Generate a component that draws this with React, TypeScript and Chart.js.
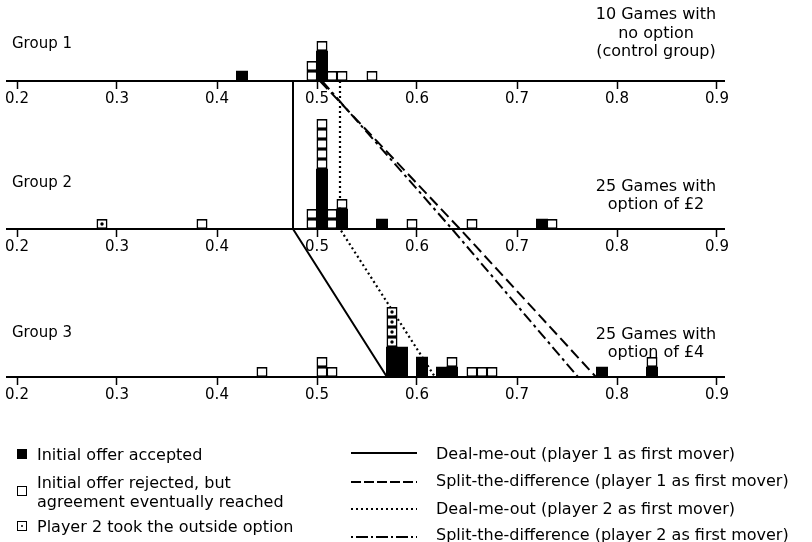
import React, { useEffect, useRef } from 'react';
import { Chart, registerables } from 'chart.js';

Chart.register(...registerables);

const FONT = '"DejaVu Sans", "Liberation Sans", sans-serif';

// Horizontal axis: share of the pie (identical scale on all three group axes)
const AXIS_TICKS = [0.2, 0.3, 0.4, 0.5, 0.6, 0.7, 0.8, 0.9];
const AXIS_MIN = 0.19;
const AXIS_MAX = 0.907;

// Baseline of each group's axis, in box units (one box = one game)
const GROUP_BASELINES = [29.6, 14.8, 0];
const GROUP_LABELS = ['Group 1', 'Group 2', 'Group 3'];
const GROUP_NOTES = [
  ['10 Games with', 'no option', '(control group)'],
  ['25 Games with', 'option of £2'],
  ['25 Games with', 'option of £4'],
];

// Offers binned to 0.01 (bin centres) and number of games per outcome
const G1_BINS = [0.425, 0.495, 0.505, 0.515, 0.525, 0.555];
const G1_ACCEPTED = [1, 0, 3, 0, 0, 0];
const G1_OPTION = [0, 0, 0, 0, 0, 0];
const G1_REJECTED = [0, 2, 1, 1, 1, 1];

const G2_BINS = [0.285, 0.385, 0.495, 0.505, 0.515, 0.525, 0.565, 0.595, 0.655, 0.725, 0.735];
const G2_ACCEPTED = [0, 0, 0, 6, 0, 2, 1, 0, 0, 1, 0];
const G2_OPTION = [1, 0, 0, 0, 0, 0, 0, 0, 0, 0, 0];
const G2_REJECTED = [0, 1, 2, 5, 2, 1, 0, 1, 1, 0, 1];

const G3_BINS = [0.445, 0.505, 0.515, 0.575, 0.585, 0.605, 0.625, 0.635, 0.655, 0.665, 0.675, 0.785, 0.835];
const G3_ACCEPTED = [0, 0, 0, 3, 3, 2, 1, 1, 0, 0, 0, 1, 1];
const G3_OPTION = [0, 0, 0, 4, 0, 0, 0, 0, 0, 0, 0, 0, 0];
const G3_REJECTED = [1, 2, 1, 0, 0, 0, 0, 1, 1, 1, 1, 0, 1];

// Theoretical predictions where they meet the Group 1, 2 and 3 axes
const DEAL_ME_OUT_P1 = [0.476, 0.476, 0.57];
const SPLIT_DIFF_P1 = [0.503, 0.643, 0.779];
const DEAL_ME_OUT_P2 = [0.523, 0.523, 0.618];
const SPLIT_DIFF_P2 = [0.505, 0.635, 0.761];

const OUTCOME_LEGEND = [
  'Initial offer accepted',
  'Initial offer rejected, but\nagreement eventually reached',
  'Player 2 took the outside option',
];
const STRATEGY_LEGEND = [
  'Deal-me-out (player 1 as first mover)',
  'Split-the-difference (player 1 as first mover)',
  'Deal-me-out (player 2 as first mover)',
  'Split-the-difference (player 2 as first mover)',
];

type Box = { x: number; y: [number, number] };
type Pt = { x: number; y: number };

const GROUPS = [
  { bins: G1_BINS, accepted: G1_ACCEPTED, option: G1_OPTION, rejected: G1_REJECTED },
  { bins: G2_BINS, accepted: G2_ACCEPTED, option: G2_OPTION, rejected: G2_REJECTED },
  { bins: G3_BINS, accepted: G3_ACCEPTED, option: G3_OPTION, rejected: G3_REJECTED },
];

// Stack one box per game: accepted at the bottom, then outside option, then rejected
function buildBoxes() {
  const accepted: Box[] = [];
  const option: Box[] = [];
  const rejected: Box[] = [];
  const dots: Pt[] = [];
  GROUPS.forEach((g, gi) => {
    const base = GROUP_BASELINES[gi];
    g.bins.forEach((x, i) => {
      let level = 0;
      for (let k = 0; k < g.accepted[i]; k++, level++) accepted.push({ x, y: [base + level, base + level + 1] });
      for (let k = 0; k < g.option[i]; k++, level++) {
        option.push({ x, y: [base + level, base + level + 1] });
        dots.push({ x, y: base + level + 0.5 });
      }
      for (let k = 0; k < g.rejected[i]; k++, level++) rejected.push({ x, y: [base + level, base + level + 1] });
    });
  });
  return { accepted, option, rejected, dots };
}

const toLine = (shares: number[]): Pt[] => shares.map((x, i) => ({ x, y: GROUP_BASELINES[i] }));

const makeAxis = (baseline: number) => ({
  type: 'linear',
  axis: 'x',
  position: { y: baseline },
  min: AXIS_MIN,
  max: AXIS_MAX,
  offset: false,
  afterBuildTicks: (scale: any) => {
    scale.ticks = AXIS_TICKS.map((v) => ({ value: v }));
  },
  ticks: {
    callback: (v: any) => Number(v).toFixed(1),
    color: '#000',
    font: { family: FONT, size: 15 },
    padding: 2,
    autoSkip: false,
    maxRotation: 0,
  },
  grid: { drawOnChartArea: false, drawTicks: true, tickLength: 7, tickWidth: 1.5, tickColor: '#000', offset: false },
  border: { display: true, color: '#000', width: 2 },
});

// Group names on the left and game counts on the right of each axis
const LABEL_OFFSETS = [-37, -46, -44];
const NOTE_BOTTOM_OFFSETS = [-29, -24, -24];
const groupTextPlugin = {
  id: 'groupText',
  afterDraw(chart: any) {
    const { ctx } = chart;
    const yScale = chart.scales.y;
    ctx.save();
    ctx.fillStyle = '#000';
    ctx.textBaseline = 'middle';
    GROUP_BASELINES.forEach((b, gi) => {
      const py = yScale.getPixelForValue(b);
      ctx.font = `15px ${FONT}`;
      ctx.textAlign = 'left';
      ctx.fillText(GROUP_LABELS[gi], 12, py + LABEL_OFFSETS[gi]);
      ctx.font = `16px ${FONT}`;
      ctx.textAlign = 'center';
      const lines = GROUP_NOTES[gi];
      lines.forEach((t, i) => {
        ctx.fillText(t, 656, py + NOTE_BOTTOM_OFFSETS[gi] - (lines.length - 1 - i) * 18.5);
      });
    });
    ctx.restore();
  },
};

const boxStyle = (fill: string, inflate: number) => ({
  type: 'bar' as const,
  backgroundColor: fill,
  borderColor: '#000',
  borderWidth: 1.7,
  borderSkipped: false,
  barThickness: 11,
  grouped: false,
  inflateAmount: inflate,
  order: 1,
});

const lineStyle = (dash: number[], width = 2) => ({
  type: 'line' as const,
  borderColor: '#000',
  borderWidth: width,
  borderDash: dash,
  pointRadius: 0,
  fill: false,
  tension: 0,
  order: 2,
});

function StrategyChart() {
  const ref = useRef<HTMLCanvasElement | null>(null);
  useEffect(() => {
    if (!ref.current) return;
    const boxes = buildBoxes();
    const chart = new Chart(ref.current, {
      type: 'bar',
      data: {
        datasets: [
          { label: 'accepted', data: boxes.accepted, ...boxStyle('#000', 0.5) } as any,
          { label: 'option', data: boxes.option, ...boxStyle('#fff', 0) } as any,
          { label: 'rejected', data: boxes.rejected, ...boxStyle('#fff', 0) } as any,
          {
            type: 'scatter',
            label: 'option-dot',
            data: boxes.dots,
            pointRadius: 1.7,
            pointBackgroundColor: '#000',
            pointBorderWidth: 0,
            order: 0,
          } as any,
          { label: 'dmo1', data: toLine(DEAL_ME_OUT_P1), ...lineStyle([]) } as any,
          { label: 'std1', data: toLine(SPLIT_DIFF_P1), ...lineStyle([11, 5]) } as any,
          { label: 'dmo2', data: toLine(DEAL_ME_OUT_P2), ...lineStyle([2, 3], 2.2) } as any,
          { label: 'std2', data: toLine(SPLIT_DIFF_P2), ...lineStyle([11, 4, 3, 4]) } as any,
        ],
      },
      options: {
        responsive: false,
        animation: false,
        events: [],
        layout: { padding: { left: 7, right: 88, top: 6, bottom: 6 } },
        plugins: { legend: { display: false }, tooltip: { enabled: false } },
        scales: {
          x: makeAxis(GROUP_BASELINES[0]),
          x2: makeAxis(GROUP_BASELINES[1]),
          x3: makeAxis(GROUP_BASELINES[2]),
          y: { type: 'linear', min: -15.9, max: 37.1, display: false },
        } as any,
      },
      plugins: [groupTextPlugin],
    });
    return () => chart.destroy();
  }, []);
  return <canvas ref={ref} width={812} height={542} style={{ display: 'block' }} />;
}

function Square({ kind }: { kind: number }) {
  return (
    <div
      style={{
        position: 'relative',
        width: 10,
        height: 10,
        boxSizing: 'border-box',
        border: '1.5px solid #000',
        background: kind === 0 ? '#000' : '#fff',
      }}
    >
      {kind === 2 && (
        <div
          style={{
            position: 'absolute',
            left: 2.5,
            top: 2.5,
            width: 2.4,
            height: 2.4,
            borderRadius: '50%',
            background: '#000',
          }}
        />
      )}
    </div>
  );
}

const OUTCOME_POS = [
  { iconTop: 449, textTop: 445 },
  { iconTop: 486, textTop: 473 },
  { iconTop: 521, textTop: 517 },
];
const STRATEGY_POS = [
  { lineY: 453, textTop: 444, dash: '' },
  { lineY: 482, textTop: 471, dash: '10 3' },
  { lineY: 509, textTop: 499, dash: '2 3' },
  { lineY: 537, textTop: 525, dash: '2 3 12 3' },
];

function Legend() {
  const text: React.CSSProperties = {
    position: 'absolute',
    font: `16px ${FONT}`,
    lineHeight: '19px',
    color: '#000',
    whiteSpace: 'pre',
  };
  return (
    <>
      {OUTCOME_LEGEND.map((t, i) => (
        <React.Fragment key={t}>
          <div style={{ position: 'absolute', left: 17, top: OUTCOME_POS[i].iconTop }}>
            <Square kind={i} />
          </div>
          <div style={{ ...text, left: 37, top: OUTCOME_POS[i].textTop }}>{t}</div>
        </React.Fragment>
      ))}
      <svg style={{ position: 'absolute', left: 0, top: 0 }} width={812} height={542}>
        {STRATEGY_POS.map((p, i) => (
          <line
            key={i}
            x1={351}
            x2={417}
            y1={p.lineY}
            y2={p.lineY}
            stroke="#000"
            strokeWidth={i === 2 ? 2.2 : 2}
            strokeDasharray={p.dash || undefined}
          />
        ))}
      </svg>
      {STRATEGY_LEGEND.map((t, i) => (
        <div key={t} style={{ ...text, left: 436, top: STRATEGY_POS[i].textTop }}>
          {t}
        </div>
      ))}
    </>
  );
}

export default function App() {
  return (
    <div style={{ position: 'absolute', left: 0, top: 0, width: 812, height: 542, background: '#fff' }}>
      <StrategyChart />
      <Legend />
    </div>
  );
}
